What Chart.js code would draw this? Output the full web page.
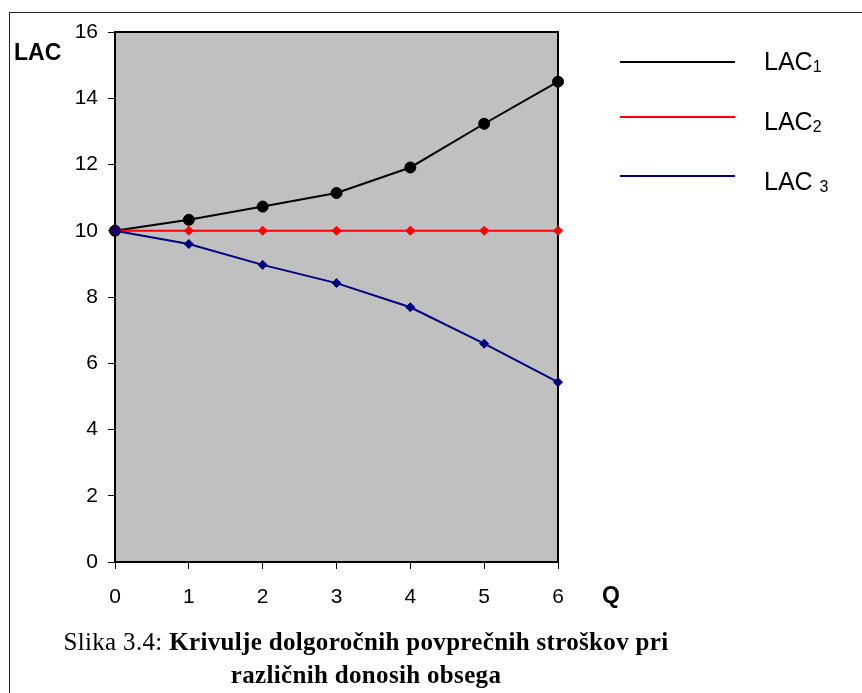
<!DOCTYPE html>
<html>
<head>
<meta charset="utf-8">
<script src="https://cdn.jsdelivr.net/npm/chart.js@4.4.1/dist/chart.umd.min.js"></script>
<style>
  body { margin: 0; background: #fff; }
  #wrap { position: relative; width: 862px; height: 693px; overflow: hidden; }
  #chart { position: absolute; left: 0; top: 0; }
  .frame { position: absolute; left: 9px; top: 12px; width: 900px; height: 700px;
           border-left: 1px solid #222; border-top: 1px solid #222; }
  .lbl { position: absolute; font-family: "Liberation Sans", Arial, sans-serif; color: #000; white-space: nowrap; }
  .axt { font-weight: bold; font-size: 23px; line-height: 23px; }
  .leg { font-size: 25px; line-height: 25px; }
  .leg span { font-size: 16px; position: relative; top: 2px; }
  .legline { position: absolute; left: 620px; width: 115px; height: 2px; }
  .cap { position: absolute; left: 0; width: 732px; text-align: center; white-space: nowrap; letter-spacing: 0.33px;
         font-family: "Liberation Serif", "Times New Roman", serif; font-size: 25px; line-height: 25px; color: #000; }
  .cap b { font-weight: bold; }
</style>
</head>
<body>
<div id="wrap">
  <div class="frame"></div>
  <canvas id="chart" width="862" height="693"></canvas>
  <div class="lbl axt" style="left:14px; top:41px;">LAC</div>
  <div class="lbl axt" style="left:602px; top:584px;">Q</div>
  <div class="legline" style="top:61px; background:#000;"></div>
  <div class="legline" style="top:116px; background:#ff0000;"></div>
  <div class="legline" style="top:175px; background:#000080;"></div>
  <div class="lbl leg" style="left:764px; top:49px;">LAC<span>1</span></div>
  <div class="lbl leg" style="left:764px; top:109px;">LAC<span>2</span></div>
  <div class="lbl leg" style="left:764px; top:169px;">LAC <span>3</span></div>
  <div class="cap" style="top:629px;">Slika 3.4: <b>Krivulje dolgoročnih povprečnih stroškov pri</b></div>
  <div class="cap" style="top:662px;"><b>različnih donosih obsega</b></div>
</div>
<script>
// Q values on the x axis
var quantities = [0, 1, 2, 3, 4, 5, 6];
// long run average cost curves
var lac1 = [10, 10.33, 10.73, 11.14, 11.91, 13.23, 14.5];
var lac2 = [10, 10, 10, 10, 10, 10, 10];
var lac3 = [10, 9.6, 8.97, 8.42, 7.69, 6.59, 5.43];
var yMin = 0, yMax = 16, yStep = 2;

var plotBackground = {
    id: "plotBackground",
    beforeDraw: function (chart) {
        var ctx = chart.ctx, a = chart.chartArea;
        ctx.save();
        ctx.fillStyle = "#c0c0c0";
        ctx.fillRect(a.left, a.top, a.right - a.left, a.bottom - a.top);
        ctx.restore();
    },
    beforeDatasetsDraw: function (chart) {
        var ctx = chart.ctx, a = chart.chartArea;
        ctx.save();
        ctx.strokeStyle = "#000";
        ctx.lineWidth = 2;
        ctx.strokeRect(a.left, a.top, a.right - a.left, a.bottom - a.top);
        ctx.restore();
    }
};

var tickFont = { family: "'Liberation Sans', Arial, sans-serif", size: 21 };

new Chart(document.getElementById("chart").getContext("2d"), {
    type: "line",
    data: {
        labels: quantities,
        datasets: [
            {
                label: "LAC1",
                data: lac1,
                borderColor: "#000",
                backgroundColor: "#000",
                borderWidth: 2,
                pointStyle: "circle",
                pointRadius: 5.5,
                pointBorderWidth: 1,
                tension: 0,
                clip: false,
                order: 3
            }, {
                label: "LAC2",
                data: lac2,
                borderColor: "#ff0000",
                backgroundColor: "#ff0000",
                borderWidth: 2,
                pointStyle: "rectRot",
                pointRadius: 4.5,
                pointBorderWidth: 1,
                tension: 0,
                clip: false,
                order: 2
            }, {
                label: "LAC 3",
                data: lac3,
                borderColor: "#000080",
                backgroundColor: "#000080",
                borderWidth: 2,
                pointStyle: "rectRot",
                pointRadius: 4.5,
                pointBorderWidth: 1,
                tension: 0,
                clip: false,
                order: 1
            }
        ]
    },
    options: {
        responsive: false,
        animation: false,
        layout: { padding: { left: 0, top: 32, right: 304, bottom: 0 } },
        plugins: {
            legend: { display: false },
            tooltip: { enabled: false }
        },
        scales: {
            x: {
                type: "category",
                offset: false,
                grid: { drawOnChartArea: false, drawTicks: true, tickLength: 7, color: "#000", lineWidth: 1 },
                border: { display: false },
                ticks: { color: "#000", font: tickFont, padding: 16, maxRotation: 0 },
                afterFit: function (s) { s.height = 131; }
            },
            y: {
                min: yMin,
                max: yMax,
                grid: { drawOnChartArea: false, drawTicks: true, tickLength: 7, color: "#000", lineWidth: 1 },
                border: { display: false },
                ticks: { stepSize: yStep, color: "#000", font: tickFont, padding: 10 },
                afterFit: function (s) { s.width = 115; }
            }
        }
    },
    plugins: [plotBackground]
});
</script>
</body>
</html>
